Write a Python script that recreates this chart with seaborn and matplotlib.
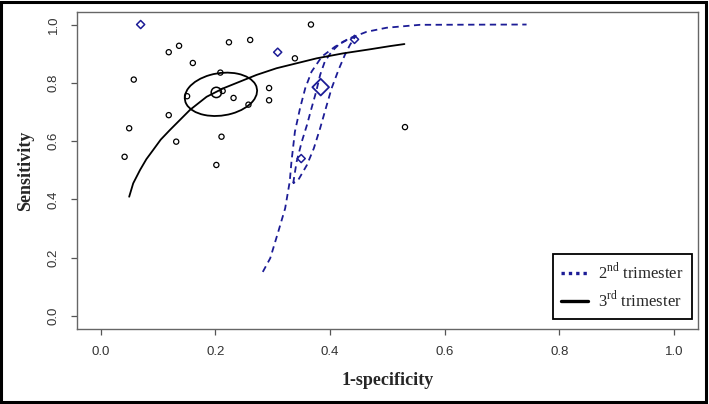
import numpy as np
import pandas as pd
import matplotlib
matplotlib.use('Agg')
import matplotlib.pyplot as plt
import seaborn as sns
from matplotlib.patches import Ellipse, Rectangle
from matplotlib.lines import Line2D

# 3rd trimester studies (open circles)
fpr3 = [0.367, 0.137, 0.119, 0.224, 0.261, 0.339, 0.161, 0.058, 0.209, 0.213, 0.151,
        0.232, 0.258, 0.294, 0.294, 0.119, 0.050, 0.211, 0.132, 0.042, 0.202, 0.531]
sens3 = [1.000, 0.927, 0.905, 0.939, 0.947, 0.884, 0.868, 0.811, 0.835, 0.772, 0.754,
         0.748, 0.725, 0.782, 0.740, 0.689, 0.644, 0.615, 0.598, 0.546, 0.518, 0.648]

# 2nd trimester studies (diamonds)
fpr2 = [0.070, 0.309, 0.350, 0.443]
sens2 = [1.000, 0.905, 0.540, 0.949]

# summary points
summ3_x, summ3_y = [0.202], [0.767]
summ2_x, summ2_y = [0.384], [0.785]

# SROC curves
sroc3_x = [0.050, 0.057, 0.069, 0.080, 0.092, 0.105, 0.121, 0.156, 0.185, 0.214, 0.243,
           0.272, 0.307, 0.342, 0.377, 0.423, 0.470, 0.505, 0.530]
sroc3_y = [0.409, 0.455, 0.501, 0.538, 0.570, 0.605, 0.638, 0.707, 0.752, 0.781, 0.804,
           0.827, 0.850, 0.867, 0.884, 0.901, 0.915, 0.926, 0.933]
sroc2_x = [0.283, 0.296, 0.310, 0.322, 0.330, 0.333, 0.339, 0.348, 0.357, 0.368,
           0.386, 0.409, 0.435, 0.464, 0.499, 0.557, 0.743]
sroc2_y = [0.151, 0.198, 0.289, 0.369, 0.461, 0.529, 0.632, 0.713, 0.781, 0.838,
           0.890, 0.924, 0.953, 0.975, 0.989, 0.999, 1.000]

# 2nd trimester confidence region (closed loop)
cr2_x = [0.336, 0.342, 0.351, 0.360, 0.368, 0.376, 0.383, 0.391, 0.403, 0.418, 0.435, 0.444,
         0.435, 0.426, 0.415, 0.403, 0.393, 0.383, 0.372, 0.360, 0.345, 0.336]
cr2_y = [0.455, 0.529, 0.598, 0.655, 0.713, 0.769, 0.827, 0.872, 0.907, 0.936, 0.953, 0.958,
         0.930, 0.895, 0.844, 0.781, 0.713, 0.644, 0.575, 0.518, 0.467, 0.455]

# 3rd trimester confidence ellipse: centre, axes, angle
cr3_centre = (0.210, 0.7605)
cr3_axes = (0.153, 0.121)
cr3_angle = 67.6

blue = '#1c1c96'

sns.set_style('ticks')
plt.rcParams['font.family'] = ['Liberation Sans', 'DejaVu Sans']
plt.rcParams['mathtext.fontset'] = 'custom'
plt.rcParams['mathtext.rm'] = 'Liberation Serif'

fig = plt.figure(figsize=(7.09, 4.04), dpi=100)
ax = fig.add_axes([0.1086, 0.1856, 0.8759, 0.7847])

dash = (0, (3.5, 2.5))
sns.lineplot(x=sroc2_x, y=sroc2_y, sort=False, estimator=None, color=blue,
             linewidth=1.3, linestyle=dash, ax=ax)
sns.lineplot(x=cr2_x, y=cr2_y, sort=False, estimator=None, color=blue,
             linewidth=1.3, linestyle=dash, ax=ax)
sns.lineplot(x=sroc3_x, y=sroc3_y, sort=False, estimator=None, color='black',
             linewidth=1.3, ax=ax)
ax.add_patch(Ellipse(cr3_centre, cr3_axes[0], cr3_axes[1], angle=cr3_angle,
                     fill=False, edgecolor='black', linewidth=1.3))

sns.scatterplot(x=fpr3, y=sens3, marker='o', s=14, facecolor='none',
                edgecolor='black', linewidth=0.9, ax=ax)
sns.scatterplot(x=fpr2, y=sens2, marker='D', s=17, facecolor='none',
                edgecolor=blue, linewidth=1.1, ax=ax)
sns.scatterplot(x=summ3_x, y=summ3_y, marker='o', s=55, facecolor='none',
                edgecolor='black', linewidth=1.1, ax=ax)
sns.scatterplot(x=summ2_x, y=summ2_y, marker='D', s=72, facecolor='none',
                edgecolor=blue, linewidth=1.3, ax=ax)

ax.set_xlim(-0.041, 1.042)
ax.set_ylim(-0.045, 1.043)
ticks = [0.0, 0.2, 0.4, 0.6, 0.8, 1.0]
ax.set_xticks(ticks)
ax.set_yticks(ticks)
ax.set_xticklabels([f'{t:.1f}' for t in ticks])
ax.set_yticklabels([f'{t:.1f}' for t in ticks], rotation=90, va='center')
ax.tick_params(length=4.5, width=0.9, color='#555555', labelcolor='#333333',
               labelsize=9.5, pad=8)
for sp in ax.spines.values():
    sp.set_color('#666666')
    sp.set_linewidth(1.0)

ax.set_xlabel('1-specificity', family='Liberation Serif', fontweight='bold',
              fontsize=13, labelpad=10)
ax.set_ylabel('Sensitivity', family='Liberation Serif', fontweight='bold',
              fontsize=13, labelpad=10)

handles = [Line2D([], [], color=blue, linestyle=(0, (1, 1.2)), linewidth=2.4),
           Line2D([], [], color='black', linewidth=2.4)]
labels = ['2$^{\\rm nd}$ trimester', '3$^{\\rm rd}$ trimester']
leg = ax.legend(handles, labels, loc='lower right', bbox_to_anchor=(0.99, 0.0315),
                borderaxespad=0, fancybox=False, framealpha=1, handlelength=1.6,
                handletextpad=0.6, labelspacing=0.45, borderpad=0.5,
                prop={'family': 'Liberation Serif', 'size': 12})
leg.get_frame().set_edgecolor('black')
leg.get_frame().set_linewidth(1.3)

fig.patches.append(Rectangle((0.002, 0.004), 0.994, 0.99, transform=fig.transFigure,
                             fill=False, edgecolor='black', linewidth=2.2))

fig.savefig('out.png', dpi=100)
